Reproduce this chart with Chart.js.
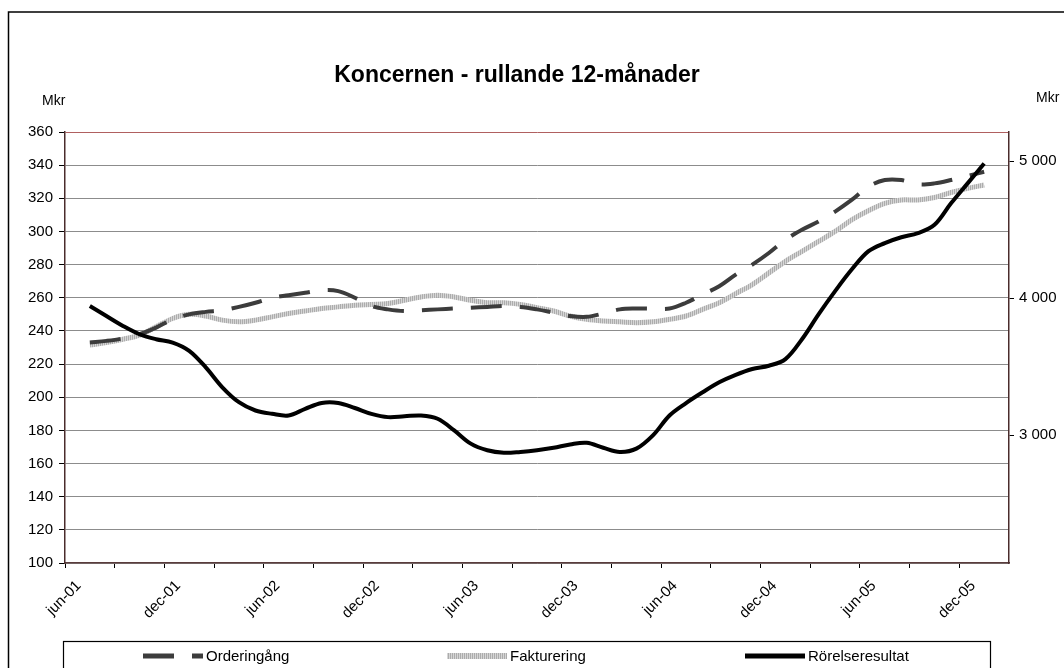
<!DOCTYPE html>
<html>
<head>
<meta charset="utf-8">
<script src="https://cdn.jsdelivr.net/npm/chart.js@4.4.0/dist/chart.umd.min.js"></script>
<style>
  html, body { margin: 0; padding: 0; background: #fff; overflow: hidden; }
</style>
</head>
<body>
<canvas id="myChart" width="1064" height="668"></canvas>
<script>
// månader på x-axeln (maj-01 och jan-06 är tomma kanter)
var manader = [
  "maj-01","jun-01","jul-01","aug-01","sep-01","okt-01","nov-01","dec-01",
  "jan-02","feb-02","mar-02","apr-02","maj-02","jun-02","jul-02","aug-02","sep-02","okt-02","nov-02","dec-02",
  "jan-03","feb-03","mar-03","apr-03","maj-03","jun-03","jul-03","aug-03","sep-03","okt-03","nov-03","dec-03",
  "jan-04","feb-04","mar-04","apr-04","maj-04","jun-04","jul-04","aug-04","sep-04","okt-04","nov-04","dec-04",
  "jan-05","feb-05","mar-05","apr-05","maj-05","jun-05","jul-05","aug-05","sep-05","okt-05","nov-05","dec-05",
  "jan-06"
];

// jun-01 .. dec-05
var orderingang = [
  233, 234, 235.5, 238, 242, 247, 250, 251.5, 252.5, 254.5,
  257, 260, 261.5, 263, 264.5, 264, 260, 255, 253, 252,
  252.5, 253, 253.5, 254, 254.5, 255, 254.5, 253, 251, 249,
  248.5, 250.5, 253, 253.5, 253.5, 253.5, 257, 262, 267, 274,
  280, 287, 295, 301, 306, 312, 319, 327, 331, 331,
  328.5, 329, 331, 333.5, 336
];
var fakturering = [
  231.5, 233, 235, 237.5, 242.5, 247.5, 250, 249, 246.5, 245.5,
  246.5, 248.5, 250.5, 252, 253.5, 254.5, 255.5, 256, 256.5, 258.5,
  260.5, 261.5, 260.5, 258.5, 257, 257, 256, 254, 252, 249,
  247, 246, 245.5, 245, 245.5, 247, 249, 253, 257, 262.5,
  268, 275, 282, 288, 294, 300, 307, 312.5, 317, 319,
  319, 320.5, 323.5, 326, 328
];
var rorelseresultat = [
  255, 249, 243, 238, 235, 233, 228, 218, 206, 197,
  192, 190, 189, 193, 196.5, 196.5, 193.5, 190, 188, 188.5,
  189, 187, 180, 172, 168, 166.5, 167, 168, 169.5, 171.5,
  172.5, 169.5, 167, 169, 177, 189, 196.5, 203, 209, 213.5,
  217, 219, 223, 235, 250, 264, 277, 288, 293, 296.5,
  299, 304, 317, 329, 341
];

var vansterMin = 100, vansterMax = 360, vansterSteg = 20;
var hogerTicks = [3000, 4000, 5000];

var FONT = "Arial, 'Liberation Sans', sans-serif";

function medTomma(v) {
  return [null].concat(v, [null]);
}

// grått randigt mönster för fakturering
function randMonster() {
  var c = document.createElement('canvas');
  c.width = 2; c.height = 2;
  var g = c.getContext('2d');
  g.fillStyle = '#d6d6d6';
  g.fillRect(0, 0, 2, 2);
  g.fillStyle = '#acacac';
  g.fillRect(0, 0, 1, 2);
  return g.createPattern(c, 'repeat');
}

function tusental(v) {
  return String(v).replace(/\B(?=(\d{3})+(?!\d))/g, ' ');
}

// ram, rubrik, Mkr och förklaring
var ritaExtra = {
  id: 'ritaExtra',
  afterDraw: function(chart) {
    var ctx = chart.ctx;
    ctx.save();
    ctx.strokeStyle = '#000';
    ctx.lineWidth = 1.5;
    ctx.strokeRect(8.5, 12, 1100, 700);

    ctx.fillStyle = '#000';
    ctx.font = 'bold 23px ' + FONT;
    ctx.textAlign = 'center';
    ctx.textBaseline = 'middle';
    ctx.fillText('Koncernen - rullande 12-månader', 517, 76);

    ctx.font = '14px ' + FONT;
    ctx.textAlign = 'left';
    ctx.fillText('Mkr', 42, 101);
    ctx.fillText('Mkr', 1036, 98);

    // förklaring
    ctx.lineWidth = 1.2;
    ctx.strokeRect(63.5, 641.5, 927, 100);
    var start = [143, 447, 745];
    ctx.font = '15px ' + FONT;
    ctx.textBaseline = 'middle';
    chart.data.datasets.forEach(function(ds, i) {
      var x = start[i];
      ctx.save();
      ctx.strokeStyle = ds.borderColor;
      ctx.lineWidth = ds.borderWidth + 1;
      ctx.setLineDash(ds.borderDash || []);
      ctx.beginPath();
      ctx.moveTo(x, 656);
      ctx.lineTo(x + 60, 656);
      ctx.stroke();
      ctx.restore();
      ctx.fillStyle = '#000';
      ctx.fillText(ds.label, x + 63, 657);
    });
    ctx.restore();
  }
};

new Chart(document.getElementById('myChart'), {
  type: 'line',
  data: {
    labels: manader,
    datasets: [
      {
        label: 'Orderingång',
        data: medTomma(orderingang),
        borderColor: '#3c3c3c',
        borderWidth: 4,
        borderDash: [31, 18],
        order: 2
      },
      {
        label: 'Fakturering',
        data: medTomma(fakturering),
        borderColor: randMonster(),
        borderWidth: 5,
        order: 3
      },
      {
        label: 'Rörelseresultat',
        data: medTomma(rorelseresultat),
        borderColor: '#000',
        borderWidth: 4,
        order: 1
      }
    ]
  },
  options: {
    responsive: false,
    animation: false,
    devicePixelRatio: 1,
    layout: { padding: { top: 132, left: 0, right: 0, bottom: 0 } },
    elements: {
      point: { radius: 0 },
      line: { tension: 0.35, fill: false, borderCapStyle: 'butt' }
    },
    plugins: {
      legend: { display: false },
      title: { display: false },
      tooltip: { enabled: false }
    },
    scales: {
      x: {
        offset: true,
        grid: {
          drawOnChartArea: false,
          offset: true,
          tickLength: 5,
          tickColor: function(c) { return c.index % 3 === 0 ? '#000' : 'rgba(0,0,0,0)'; }
        },
        border: { color: '#5a3c3c', width: 1.5 },
        ticks: {
          autoSkip: false,
          minRotation: 45,
          maxRotation: 45,
          padding: 9,
          labelOffset: -11,
          color: '#000',
          font: { size: 15, family: FONT },
          callback: function(value) {
            var l = this.getLabelForValue(value);
            return (l.indexOf('jun') === 0 || l.indexOf('dec') === 0) ? l : '';
          }
        },
        afterFit: function(s) { s.height = 105; }
      },
      y: {
        position: 'left',
        min: vansterMin,
        max: vansterMax,
        ticks: { stepSize: vansterSteg, padding: 6, color: '#000', font: { size: 15, family: FONT } },
        grid: {
          color: function(c) { return c.tick && c.tick.value === vansterMax ? '#b06060' : '#8c8c8c'; },
          tickColor: '#000',
          tickLength: 6,
          lineWidth: 1
        },
        border: { color: '#4a2c2c', width: 1.5 },
        afterFit: function(s) { s.width = 65; }
      },
      y1: {
        position: 'right',
        min: 2068,
        max: 5214,
        afterBuildTicks: function(s) {
          s.ticks = hogerTicks.map(function(v) { return { value: v }; });
        },
        ticks: {
          padding: 5,
          color: '#000',
          font: { size: 15, family: FONT },
          callback: function(v) { return tusental(v); }
        },
        grid: { drawOnChartArea: false, tickColor: '#000', tickLength: 5 },
        border: { color: '#4a2c2c', width: 1.5 },
        afterFit: function(s) { s.width = 55; }
      }
    }
  },
  plugins: [ritaExtra]
});
</script>
</body>
</html>
